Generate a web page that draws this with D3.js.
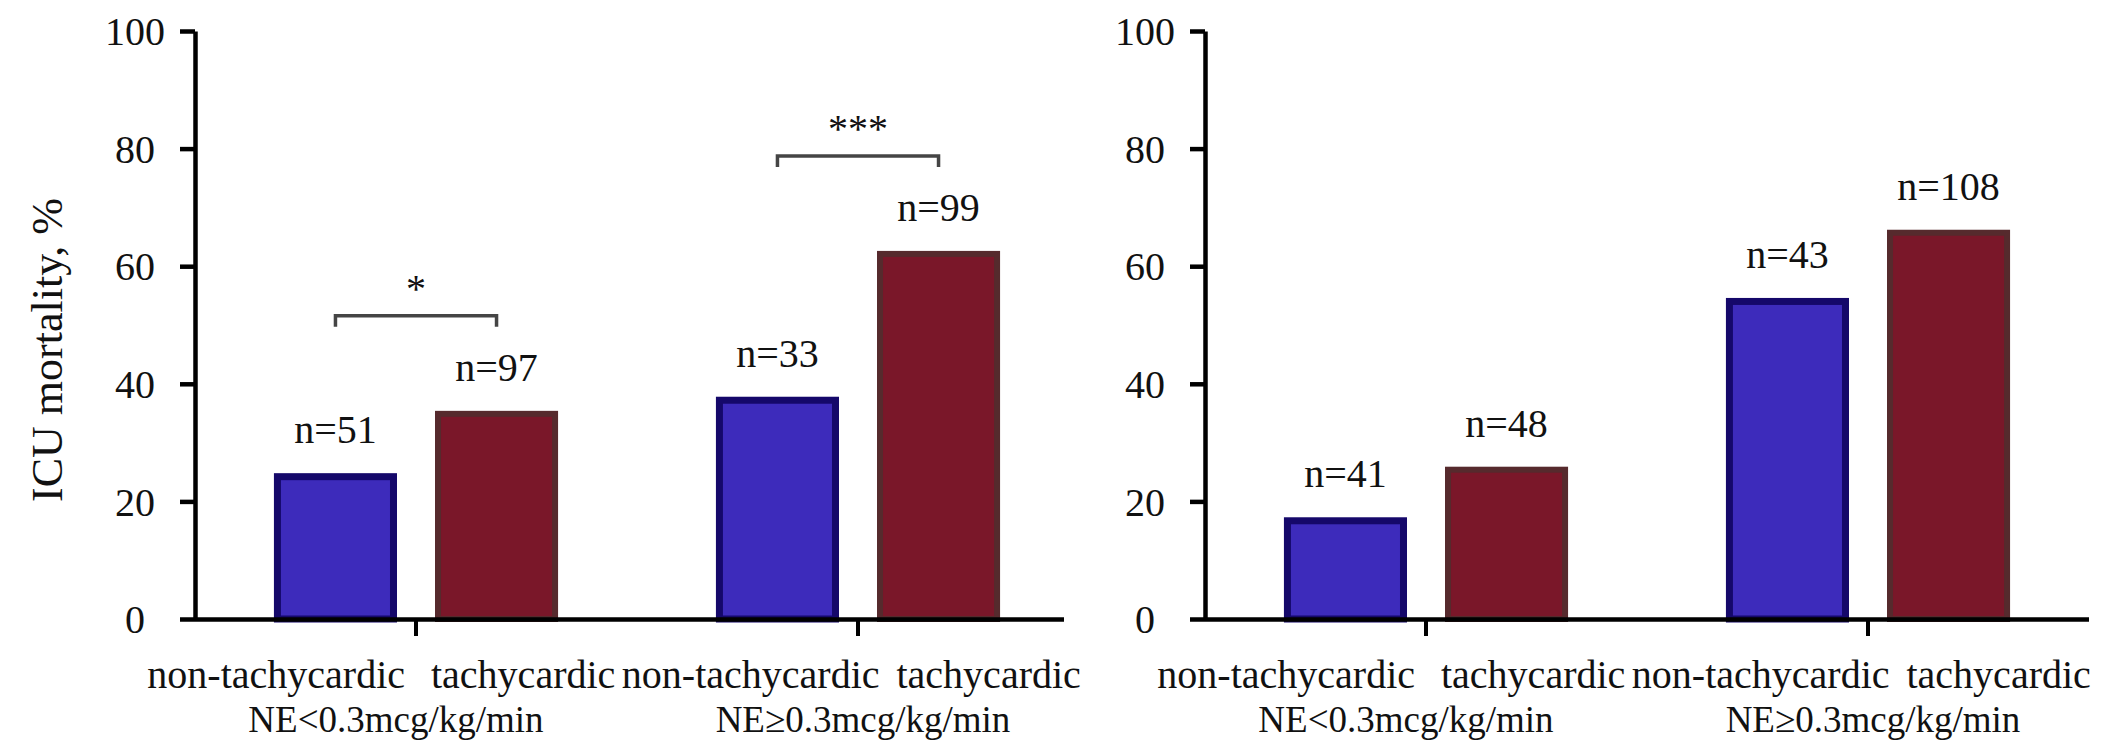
<!DOCTYPE html>
<html>
<head>
<meta charset="utf-8">
<script src="https://cdn.jsdelivr.net/npm/d3@7"></script>
<style>
  html, body { margin: 0; padding: 0; background: #ffffff; }
  svg { display: block; }
  text { font-family: "Liberation Serif", "Times New Roman", serif; fill: #111; }
</style>
</head>
<body>
<svg id="chart" width="2101" height="750"></svg>
<script>
// ICU mortality (%) by heart-rate status within norepinephrine dose groups
const doseGroups = ["NE<0.3mcg/kg/min", "NE\u22650.3mcg/kg/min"];
const hrGroups = ["non-tachycardic", "tachycardic"];
const yTicks = [0, 20, 40, 60, 80, 100];

// left panel
const leftNonTachy = [24.8, 37.8];
const leftTachy = [35.4, 62.6];
const leftNonTachyN = [51, 33];
const leftTachyN = [97, 99];
const leftSignif = ["*", "***"];

// right panel
const rightNonTachy = [17.3, 54.6];
const rightTachy = [25.9, 66.2];
const rightNonTachyN = [41, 43];
const rightTachyN = [48, 108];
const rightSignif = [null, null];

const yTitle = "ICU mortality, %";

// layout
const plotTop = 31, plotBottom = 619;
const panelWidth = 884;
const panelX = [195, 1205];
const axisLength = [869, 884];
const colors = { "non-tachycardic": "#3d2bbb", "tachycardic": "#7a1729" };
const strokes = { "non-tachycardic": "#15086a", "tachycardic": "#562a2d" };
const strokeW = { "non-tachycardic": 7, "tachycardic": 6 };
const line1Shift = [2, 30], line1Gap = [26, 17], line2Shift = [-20, 5];

const svg = d3.select("#chart");

const y = d3.scaleLinear().domain([0, 100]).range([plotBottom, plotTop]);

function buildRows(nonT, tachy, nonTN, tachyN) {
  return doseGroups.map((g, i) => ({
    group: g,
    bars: [
      { hr: hrGroups[0], value: nonT[i], n: nonTN[i] },
      { hr: hrGroups[1], value: tachy[i], n: tachyN[i] }
    ]
  }));
}

const panels = [
  { x: panelX[0], len: axisLength[0], rows: buildRows(leftNonTachy, leftTachy, leftNonTachyN, leftTachyN), signif: leftSignif, title: yTitle },
  { x: panelX[1], len: axisLength[1], rows: buildRows(rightNonTachy, rightTachy, rightNonTachyN, rightTachyN), signif: rightSignif, title: null }
];

panels.forEach(p => {
  const g = svg.append("g").attr("transform", `translate(${p.x},0)`);

  const x0 = d3.scaleBand().domain(doseGroups).range([0, panelWidth]);
  const x1 = d3.scaleBand().domain(hrGroups).range([0, x0.bandwidth()])
    .paddingInner(0.236).paddingOuter(0.49);

  // bars
  const grp = g.selectAll("g.grp").data(p.rows).join("g")
    .attr("class", "grp")
    .attr("transform", d => `translate(${x0(d.group)},0)`);

  grp.selectAll("rect").data(d => d.bars).join("rect")
    .attr("x", d => x1(d.hr) + strokeW[d.hr] / 2)
    .attr("y", d => y(d.value) + strokeW[d.hr] / 2)
    .attr("width", d => x1.bandwidth() - strokeW[d.hr])
    .attr("height", d => y(0) - y(d.value) - strokeW[d.hr] / 2)
    .attr("fill", d => colors[d.hr])
    .attr("stroke", d => strokes[d.hr])
    .attr("stroke-width", d => strokeW[d.hr]);

  // n labels
  grp.selectAll("text.n").data(d => d.bars).join("text")
    .attr("class", "n")
    .attr("x", d => x1(d.hr) + x1.bandwidth() / 2)
    .attr("y", d => y(d.value) - 30)
    .attr("text-anchor", "middle")
    .attr("font-size", 40)
    .text(d => "n=" + d.n);

  // significance brackets
  grp.each(function (d, i) {
    const s = p.signif[i];
    if (!s) return;
    const gg = d3.select(this);
    const xa = x1(d.bars[0].hr) + x1.bandwidth() / 2;
    const xb = x1(d.bars[1].hr) + x1.bandwidth() / 2;
    const yb = y(d3.max(d.bars, b => b.value)) - 95;
    gg.append("path")
      .attr("d", `M${xa},${yb + 11}V${yb}H${xb}V${yb + 11}`)
      .attr("fill", "none")
      .attr("stroke", "#454545")
      .attr("stroke-width", 3.5);
    gg.append("text")
      .attr("x", (xa + xb) / 2)
      .attr("y", yb - 14)
      .attr("text-anchor", "middle")
      .attr("font-size", 40)
      .text(s);
  });

  // category labels
  grp.each(function (d, i) {
    const gg = d3.select(this);
    const cx = x0.bandwidth() / 2;
    gg.append("text")
      .attr("x", cx + line1Shift[i] - line1Gap[i] / 2)
      .attr("y", 688)
      .attr("text-anchor", "end")
      .attr("font-size", 40)
      .text(hrGroups[0]);
    gg.append("text")
      .attr("x", cx + line1Shift[i] + line1Gap[i] / 2)
      .attr("y", 688)
      .attr("text-anchor", "start")
      .attr("font-size", 40)
      .text(hrGroups[1]);
    gg.append("text")
      .attr("x", cx + line2Shift[i])
      .attr("y", 732)
      .attr("text-anchor", "middle")
      .attr("font-size", 37)
      .text(d.group);
  });

  // y axis
  const ya = g.append("g").call(
    d3.axisLeft(y).tickValues(yTicks).tickSize(15).tickSizeOuter(0)
  );
  ya.select(".domain").attr("stroke", "#000").attr("stroke-width", 4.5);
  ya.selectAll(".tick line").attr("stroke", "#000").attr("stroke-width", 4.5);
  ya.selectAll(".tick text")
    .attr("x", -60)
    .attr("dy", "0.34em")
    .attr("text-anchor", "middle")
    .attr("font-size", 40)
    .attr("font-family", "Liberation Serif, serif")
    .attr("fill", "#111");

  // x axis
  const xa = g.append("g")
    .attr("transform", `translate(0,${y(0)})`)
    .call(d3.axisBottom(x0).tickSize(17).tickSizeOuter(0).tickFormat(""));
  xa.select(".domain")
    .attr("d", `M0,0.5H${p.len}`)
    .attr("stroke", "#000").attr("stroke-width", 4.5);
  xa.selectAll(".tick line").attr("stroke", "#000").attr("stroke-width", 4);

  // y title
  if (p.title) {
    svg.append("text")
      .attr("transform", `translate(62,350) rotate(-90)`)
      .attr("text-anchor", "middle")
      .attr("font-size", 44)
      .text(p.title);
  }
});
</script>
</body>
</html>
